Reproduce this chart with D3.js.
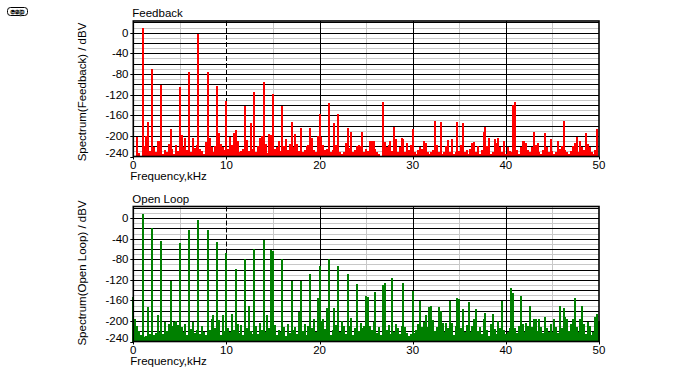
<!DOCTYPE html>
<html>
<head>
<meta charset="utf-8">
<script src="https://cdn.jsdelivr.net/npm/d3@7"></script>
<style>
  html, body { margin: 0; padding: 0; background: #fff; }
  svg { display: block; font-family: Arial, "Liberation Sans", sans-serif; }
</style>
</head>
<body>
<svg id="chart" width="700" height="380"></svg>
<script>
// ---------------- DATA ----------------
const binStepKHz = 0.2;              // spectrum bin spacing (kHz)
const xTicks = [0, 10, 20, 30, 40, 50];
const yTicks = [0, -40, -80, -120, -160, -200, -240];
const panelTitles = ["Feedback", "Open Loop"];
const yTitles = ["Spectrum(Feedback) / dBV", "Spectrum(Open Loop) / dBV"];
const xTitle = "Frequency,kHz";

// Feedback spectrum, dBV, bins 0..50 kHz every 0.2 kHz
const feedback = [
  -240,-240,-202,-233,-240, 10,-220,-200,-173,-230, -70,-222,-232,-210,-210, -101,-236,-228,-232,-215, -186,-225,-236,-218,-230,
  -106,-198,-222,-204,-228, -76,-232,-205,-224,-218, -2,-226,-230,-236,-212, -76,-205,-222,-232,-220, -103,-195,-215,-222,-228,
  -132,-226,-202,-218,-195, -188,-210,-232,-230,-225, -142,-208,-230,-175,-226, -115,-232,-220,-205,-200, -96,-215,-234,-196,-198,
  -118,-225,-222,-210,-230, -142,-220,-206,-228,-215, -174,-222,-196,-216,-230, -184,-232,-228,-220,-218, -185,-205,-228,-232,-200,
  -158,-202,-218,-228,-226, -137,-232,-228,-176,-218, -158,-232,-236,-232,-214, -185,-224,-192,-232,-228, -220,-218,-220,-192,-232,
  -226,-230,-210,-210,-210, -226,-232,-236,-240,-135, -212,-222,-218,-210,-230, -183,-206,-232,-222,-204, -206,-232,-214,-228,-218,
  -186,-232,-236,-228,-222, -226,-210,-214,-232,-236, -232,-228,-172,-218,-232, -173,-236,-232,-220,-208, -232,-206,-236,-232,-174,
  -230,-218,-176,-232,-228, -236,-226,-214,-212,-232, -220,-236,-228,-192,-183, -220,-204,-236,-232,-206, -214,-205,-222,-232,-210,
  -236,-222,-230,-232,-140, -135,-228,-236,-222,-210, -210,-214,-228,-232,-222, -192,-218,-214,-232,-236, -228,-195,-222,-232,-206,
  -230,-236,-232,-210,-226, -220,-172,-228,-232,-236, -230,-220,-214,-202,-232, -210,-222,-228,-195,-216, -222,-232,-236,-228,-186,
  -240
];

// Open loop spectrum, dBV, bins 0..50 kHz every 0.2 kHz
const openLoop = [
  -153,-196,-210,-220,-228, 9,-232,-230,-172,-226, -19,-228,-224,-189,-222, -44,-226,-202,-220,-206, -122,-210,-203,-200,-208,
  -49,-212,-222,-206,-228, -24,-216,-202,-224,-218, -3,-226,-210,-222,-228, -24,-218,-196,-189,-214, -46,-198,-228,-188,-220,
  -68,-214,-222,-187,-218, -98,-206,-224,-208,-228, -79,-214,-171,-220,-226, -60,-210,-226,-204,-218, -42,-222,-189,-214,-62,
  -64,-208,-228,-218,-222, -79,-212,-230,-206,-224, -122,-218,-212,-226,-182, -123,-220,-206,-228,-210, -109,-214,-196,-222,-156,
  -94,-200,-196,-216,-175, -80,-228,-218,-175,-208, -94,-222,-200,-210,-226, -109,-210,-194,-228,-214, -129,-220,-204,-214,-210,
  -152,-154,-210,-218,-202, -144,-224,-212,-228,-130, -127,-218,-208,-226,-117, -222,-206,-214,-226,-210, -127,-212,-224,-230,-226,
  -141,-224,-218,-206,-161, -212,-202,-188,-212,-172, -171,-198,-220,-212,-173, -180,-204,-222,-204,-214, -162,-204,-228,-210,-156,
  -158,-214,-176,-222,-208, -163,-222,-210,-196,-176, -220,-212,-226,-196,-185, -218,-230,-206,-187,-216, -226,-200,-214,-161,-218,
  -226,-222,-214,-135,-146, -214,-224,-210,-152,-206, -222,-204,-210,-171,-212, -196,-196,-220,-196,-212, -224,-193,-214,-222,-206,
  -222,-196,-212,-224,-171, -214,-174,-192,-196,-220, -206,-196,-156,-212,-222, -196,-171,-206,-226,-202, -210,-228,-222,-192,-186,
  -200
];

const seriesList = [feedback, openLoop];
const seriesColors = ["#ff0000", "#008000"];

// ---------------- LAYOUT ----------------
const svg = d3.select("#chart");
const plotLeft = 133.3, plotRight = 599;
const panels = [
  { top: 21, bottom: 156.5, yTitleCenter: 92 },
  { top: 206.5, bottom: 341.5, yTitleCenter: 273 }
];
const yDomain = [-240, 22.7];

// ESP logo
const logo = svg.append("g");
logo.append("rect").attr("x", 7.5).attr("y", 7.5).attr("width", 20).attr("height", 8)
  .attr("rx", 3).attr("fill", "#fff").attr("stroke", "#000").attr("stroke-width", 1);
logo.append("text").attr("x", 17.5).attr("y", 14).attr("text-anchor", "middle")
  .attr("font-size", 8).attr("font-weight", "bold").attr("fill", "#fff")
  .attr("stroke", "#000").attr("stroke-width", 0.6).text("esp");

const x = d3.scaleLinear().domain([0, 50]).range([plotLeft, plotRight]);
const crisp = v => Math.round(v) + 0.5;

panels.forEach((p, pi) => {
  const y = d3.scaleLinear().domain(yDomain).range([p.bottom, p.top]);
  const g = svg.append("g");

  // horizontal grid
  const minor = d3.range(10, -240, -20);     // +10, -10, ... -230
  const major = d3.range(20, -240, -20);     // +20, 0, -20, ... -220
  g.selectAll(".hmin").data(minor).join("line")
    .attr("x1", plotLeft).attr("x2", plotRight)
    .attr("y1", d => crisp(y(d))).attr("y2", d => crisp(y(d)))
    .attr("stroke", "#c8c8c8").attr("stroke-width", 1);
  // vertical minor grid
  g.selectAll(".vmin").data([5, 15, 25, 35, 45]).join("line")
    .attr("x1", d => crisp(x(d))).attr("x2", d => crisp(x(d)))
    .attr("y1", p.top).attr("y2", p.bottom)
    .attr("stroke", "#c8c8c8").attr("stroke-width", 1);
  g.selectAll(".hmaj").data(major.filter(d => y(d) > p.top + 0.5)).join("line")
    .attr("x1", plotLeft).attr("x2", plotRight)
    .attr("y1", d => crisp(y(d))).attr("y2", d => crisp(y(d)))
    .attr("stroke", "#000").attr("stroke-width", 1);
  g.selectAll(".vmaj").data([10, 20, 30, 40]).join("line")
    .attr("x1", d => crisp(x(d))).attr("x2", d => crisp(x(d)))
    .attr("y1", p.top).attr("y2", p.bottom)
    .attr("stroke", "#000").attr("stroke-width", 1)
    .attr("stroke-dasharray", d => d === 10 ? "5,2" : null);

  // spectrum bars
  const data = seriesList[pi].map((v, i) => ({ f: i * binStepKHz, v }));
  g.append("g").attr("shape-rendering", "crispEdges")
    .selectAll("rect").data(data.filter(d => d.v > -240)).join("rect")
    .attr("x", d => x(d.f) - 1)
    .attr("width", 2)
    .attr("y", d => y(Math.min(d.v, yDomain[1])))
    .attr("height", d => y(-240) - y(d.v))
    .attr("fill", seriesColors[pi]);

  // frame
  g.append("rect")
    .attr("x", plotLeft).attr("y", p.top)
    .attr("width", plotRight - plotLeft).attr("height", p.bottom - p.top)
    .attr("fill", "none").attr("stroke", "#000").attr("stroke-width", 1.6);

  // y axis ticks + labels
  g.selectAll(".yt").data(yTicks).join("line")
    .attr("x1", plotLeft - 3).attr("x2", plotLeft)
    .attr("y1", d => crisp(y(d))).attr("y2", d => crisp(y(d)))
    .attr("stroke", "#000");
  g.selectAll(".yl").data(yTicks).join("text")
    .attr("x", 128.5)
    .attr("y", d => y(d) + (d === -240 ? -3.5 : 0))
    .attr("dy", "0.35em")
    .attr("text-anchor", "end")
    .attr("font-size", 11.5)
    .text(d => d);

  // x axis ticks + labels
  g.selectAll(".xt").data(xTicks).join("line")
    .attr("x1", d => crisp(x(d))).attr("x2", d => crisp(x(d)))
    .attr("y1", p.bottom).attr("y2", p.bottom + 3)
    .attr("stroke", "#000");
  g.selectAll(".xl").data(xTicks).join("text")
    .attr("x", d => x(d))
    .attr("y", p.bottom + 12.5)
    .attr("text-anchor", "middle")
    .attr("font-size", 11.5)
    .text(d => d);
  g.append("text").attr("x", plotLeft - 3).attr("y", p.bottom + 23)
    .attr("font-size", 11.5).text(xTitle);

  // panel title
  g.append("text").attr("x", plotLeft - 1).attr("y", p.top - 4)
    .attr("font-size", 11.5).text(panelTitles[pi]);

  // y title
  g.append("text")
    .attr("transform", `translate(85.5,${p.yTitleCenter}) rotate(-90)`)
    .attr("text-anchor", "middle")
    .attr("font-size", 11.5)
    .text(yTitles[pi]);
});
</script>
</body>
</html>
